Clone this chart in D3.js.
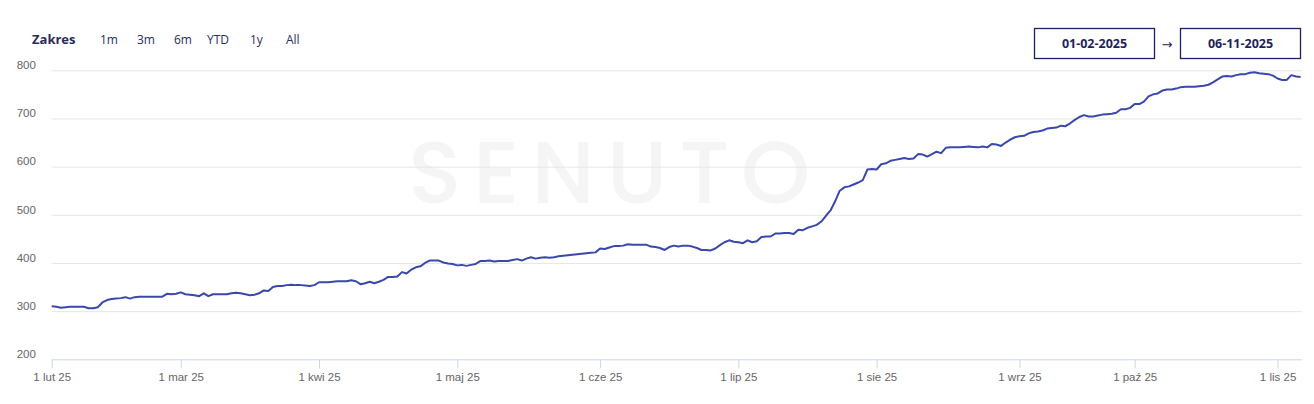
<!DOCTYPE html>
<html>
<head>
<meta charset="utf-8">
<script src="https://cdn.jsdelivr.net/npm/d3@7/dist/d3.min.js"></script>
<style>
  html, body { margin: 0; padding: 0; background: #fff; }
  svg { display: block; font-family: "Open Sans", "Noto Sans", sans-serif; }
</style>
</head>
<body>
<svg id="chart" width="1314" height="404"></svg>
<script>
// ---- data ----
const startDate = "2025-02-01";
const endDate = "2025-11-06";
const missingDates = ["2025-03-09", "2025-07-13", "2025-09-06", "2025-09-07", "2025-09-13", "2025-09-14", "2025-09-20"];
const values = [
  310,309,307,308,309,309,309,309,306,306,308,318,323,325,326,327,329,326,329,330,330,330,330,330,330,336,335,336,
  339,335,334,333,331,337,331,335,335,335,335,337,338,337,335,333,334,337,343,342,350,352,352,354,355,354,354,353,352,354,
  360,360,360,361,362,362,362,364,362,356,358,361,358,361,365,371,371,372,381,378,386,391,393,400,405,405,405,401,399,398,
  395,396,394,396,398,404,404,405,403,404,404,404,406,408,405,409,412,409,411,412,411,412,414,415,416,417,418,419,420,421,422,
  430,429,432,435,435,436,439,438,438,438,438,434,433,431,427,433,436,434,436,436,434,431,427,427,426,430,437,443,447,444,
  443,441,447,443,445,454,455,455,461,461,462,462,460,469,468,473,476,479,486,498,509,528,550,557,559,563,567,572,594,595,
  594,605,607,612,614,616,618,616,617,626,625,621,626,631,628,639,640,640,640,641,642,641,640,642,640,647,646,643,650,656,661,
  663,664,669,672,673,675,679,680,681,685,684,690,697,703,707,704,704,706,708,709,710,712,719,719,722,
  730,730,735,746,750,752,758,760,760,762,765,766,766,766,767,768,770,775,781,787,788,787,790,792,792,795,796,794,793,792,789,
  783,780,780,790,787,786
];
const yTicks = [200, 300, 400, 500, 600, 700, 800];
const monthNames = ["sty", "lut", "mar", "kwi", "maj", "cze", "lip", "sie", "wrz", "paź", "lis", "gru"];
const rangeButtons = ["1m", "3m", "6m", "YTD", "1y", "All"];
const rangeLabel = "Zakres";
const fromLabel = "01-02-2025";
const toLabel = "06-11-2025";
const watermark = "SENUTO";

// ---- build dated series (ordinal axis: missing days are skipped) ----
const parse = d3.utcParse("%Y-%m-%d");
const fmt = d3.utcFormat("%Y-%m-%d");
const missingSet = new Set(missingDates);
const dates = d3.utcDays(parse(startDate), d3.utcDay.offset(parse(endDate), 1)).filter(d => !missingSet.has(fmt(d)));
const data = values.map((v, i) => ({ i, date: dates[i], v }));

const svg = d3.select("#chart");
const plotLeft = 51.7, plotRight = 1300.6, plotTop = 70.3, plotBottom = 359.3;

const x = d3.scaleLinear().domain([0, data.length - 1]).range([plotLeft, plotRight]);
const y = d3.scaleLinear().domain([200, 800]).range([plotBottom, plotTop]);

// watermark
svg.append("text")
  .attr("x", 615).attr("y", 203)
  .attr("text-anchor", "middle")
  .attr("font-family", "Poppins, 'Open Sans', sans-serif")
  .attr("font-size", 88)
  .attr("font-weight", 500)
  .attr("letter-spacing", 12)
  .attr("fill", "#f5f5f5")
  .text(watermark);

// grid lines + y labels
const yAxis = d3.axisLeft(y).tickValues(yTicks).tickSize(-(plotRight - plotLeft + 1.5)).tickFormat(d => d);
const gy = svg.append("g").attr("transform", `translate(${plotLeft},0)`).call(yAxis);
gy.select(".domain").remove();
gy.selectAll(".tick line").attr("stroke", "#e6e6e6").attr("stroke-width", 1)
  .attr("opacity", d => d === 200 ? 0 : 1);
gy.selectAll(".tick text")
  .attr("x", -35).attr("dy", "-0.15em")
  .attr("text-anchor", "start")
  .attr("fill", "#666666")
  .attr("font-size", 11.5);

// x axis
const monthStarts = data.filter(d => d.date.getUTCDate() === 1).map(d => d.i);
const xAxis = d3.axisBottom(x).tickValues(monthStarts).tickSize(9).tickPadding(5)
  .tickFormat(i => `1 ${monthNames[data[i].date.getUTCMonth()]} ${String(data[i].date.getUTCFullYear()).slice(2)}`);
const gx = svg.append("g").attr("transform", `translate(0,${plotBottom})`).call(xAxis);
gx.select(".domain").attr("stroke", "#ccd6eb").attr("d", `M${plotLeft},0.5H${plotRight + 1.5}`);
gx.selectAll(".tick line").attr("stroke", "#ccd6eb");
gx.selectAll(".tick text").attr("fill", "#666666").attr("font-size", 11.5);

// line
const line = d3.line().x(d => x(d.i)).y(d => y(d.v)).curve(d3.curveLinear);
svg.append("path").datum(data)
  .attr("fill", "none")
  .attr("stroke", "#3a48ab")
  .attr("stroke-width", 2)
  .attr("stroke-linejoin", "round")
  .attr("d", line);

// range selector
svg.append("text").attr("x", 32).attr("y", 44)
  .attr("font-size", 13).attr("font-weight", 700).attr("fill", "#2b2b5c")
  .text(rangeLabel);
const btnX = [100, 137, 174, 207, 250, 286];
svg.selectAll(".btn").data(rangeButtons).enter().append("text")
  .attr("class", "btn")
  .attr("x", (d, i) => btnX[i]).attr("y", 44)
  .attr("font-size", 12).attr("fill", "#2b2b5c")
  .text(d => d);

// date inputs
const boxes = [{ x: 1034.5, label: fromLabel }, { x: 1180.5, label: toLabel }];
boxes.forEach(b => {
  svg.append("rect").attr("x", b.x).attr("y", 28.5).attr("width", 120).attr("height", 30)
    .attr("fill", "#fff").attr("stroke", "#1f1f66").attr("stroke-width", 1.3);
  svg.append("text").attr("x", b.x + 60).attr("y", 48)
    .attr("text-anchor", "middle").attr("font-size", 12.5).attr("font-weight", 700)
    .attr("fill", "#1f1f5c").text(b.label);
});
svg.append("text").attr("x", 1167).attr("y", 49).attr("text-anchor", "middle")
  .attr("font-family", "'DejaVu Sans', sans-serif")
  .attr("font-size", 13).attr("fill", "#1f1f5c").text("→");
</script>
</body>
</html>
